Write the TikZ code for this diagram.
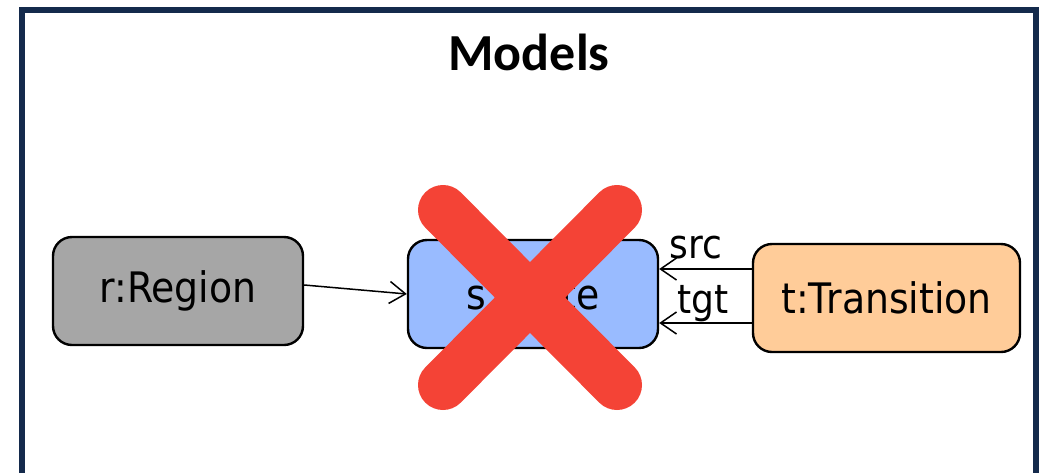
\documentclass[tikz,border=0pt]{standalone}
\usepackage{fontspec}
\setmainfont{DejaVu Sans}[FakeStretch=0.9]
\newfontfamily\titlefont{Carlito}
\usetikzlibrary{arrows.meta}

\begin{document}
\begin{tikzpicture}[x=1pt,y=-1pt,>={Straight Barb[length=16pt,width=22pt]},
  obj/.style={draw=black, line width=2.4pt, rounded corners=19pt, minimum width=250pt, minimum height=108pt, inner sep=0pt, font=\fontsize{42}{50}\selectfont},
  link/.style={->, line width=1.5pt},
  role/.style={font=\fontsize{40}{48}\selectfont, anchor=base, inner sep=0pt}]
\useasboundingbox (0,0) rectangle (1041,472);
\clip (0,0) rectangle (1041,472);

\definecolor{frameblue}{RGB}{20,42,76}
\definecolor{regiongray}{RGB}{166,166,166}
\definecolor{stateblue}{RGB}{153,187,255}
\definecolor{transpeach}{RGB}{255,204,153}
\definecolor{crossred}{RGB}{244,67,54}

\draw[frameblue, line width=6pt] (22,9.5) rectangle (1035.5,520);
\node[font=\titlefont\bfseries\fontsize{52}{60}\selectfont, anchor=base] (title) at (529,70) {Models};

\node[obj, fill=regiongray] (region) at (178,291) {r:Region};
\node[obj, fill=stateblue] (state) at (533,294) {s:State};
\node[obj, fill=transpeach, minimum width=267pt] (transition) at (886.5,298) {t:Transition};

\coordinate (srcstart) at ([yshift=29pt]transition.west);
\coordinate (tgtstart) at ([yshift=-25pt]transition.west);
\draw[link] ([yshift=6pt]region.east) -- (state.west);
\draw[link] (srcstart) -- (srcstart -| state.east) node[role, pos=0.6, yshift=11pt] {src};
\draw[link] (tgtstart) -- (tgtstart -| state.east) node[role, pos=0.53, yshift=10pt] {tgt};

% crossed out
\draw[crossred, line width=50pt, line cap=round] (443,210) -- (617,385) (617,210) -- (443,385);
\end{tikzpicture}
\end{document}
